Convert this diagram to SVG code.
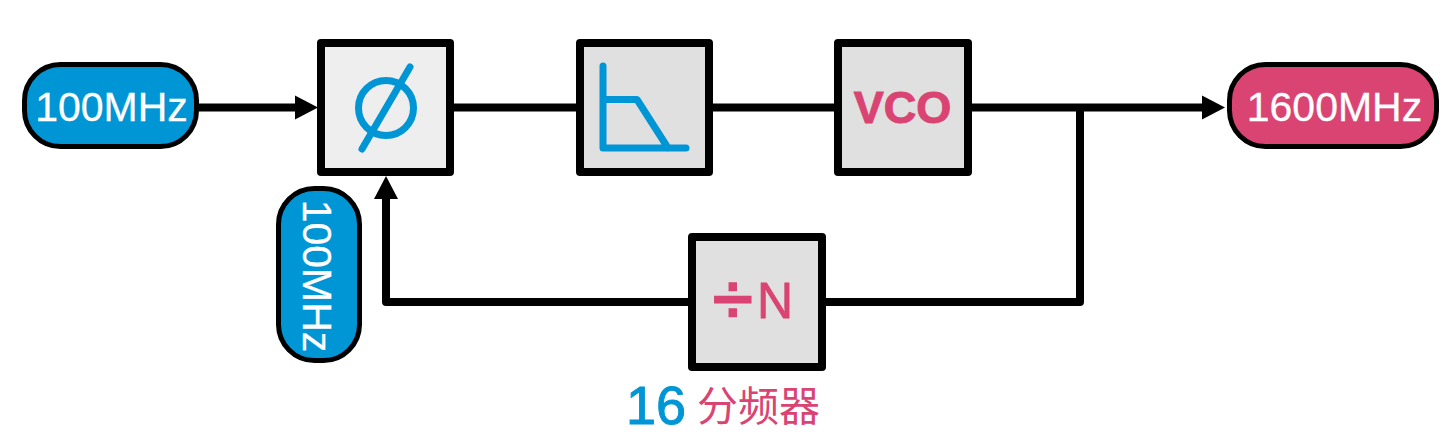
<svg xmlns="http://www.w3.org/2000/svg" width="1449" height="435" viewBox="0 0 1449 435">
<style>
.box{stroke:#000;stroke-width:8;stroke-linejoin:round}
.pill{stroke:#000;stroke-width:5}
.blue{fill:#0096d6}
.pink{fill:#d94472}
.pt{font-family:"Liberation Sans",Arial,sans-serif;font-size:41px;fill:#fff;stroke:#fff;stroke-width:.3;text-anchor:middle}
.icon{fill:none;stroke:#0096d6;stroke-width:7;stroke-linecap:round;stroke-linejoin:round}
.wire{fill:none;stroke:#000;stroke-width:8;stroke-linejoin:round}
.lab{font-family:"Liberation Sans",Arial,sans-serif}
</style>
<defs>
<marker id="arrow" markerUnits="userSpaceOnUse" markerWidth="24" markerHeight="26" refX="13" refY="13" orient="auto"><path d="M0 1L23 13L0 25Z" fill="#000"/></marker>
</defs>
<rect width="1449" height="435" fill="#fff"/>
<g id="connectors">
<path class="wire" d="M197 107.500H308" marker-end="url(#arrow)"/>
<path class="wire" d="M450 107.500H1215" marker-end="url(#arrow)"/>
<path class="wire" d="M1080 107.500V302H822"/>
<path class="wire" d="M692 302H386V186" marker-end="url(#arrow)"/>
</g>
<g id="input">
<rect class="pill blue" x="24.500" y="64.500" width="172" height="82" rx="36"/>
<text class="pt" x="111.500" y="121">100MHz</text>
</g>
<g id="feedback-frequency">
<rect class="pill blue" x="278.500" y="188.500" width="81" height="172" rx="36"/>
<text class="pt" transform="translate(303 276) rotate(90)">100MHz</text>
</g>
<g id="output">
<rect class="pill pink" x="1229.500" y="64.500" width="207" height="82" rx="36"/>
<text class="pt" x="1334.500" y="121">1600MHz</text>
</g>
<g id="phase-detector">
<rect class="box" x="321" y="43" width="129" height="129" fill="#eeeeee"/>
<circle class="icon" cx="386" cy="108" r="27.500"/>
<path class="icon" d="M410 67L362 149"/>
</g>
<g id="loop-filter">
<rect class="box" x="580" y="43" width="129" height="129" fill="#e0e0e0"/>
<path class="icon" d="M603 66V148H686M603 99.500H637L668 148"/>
</g>
<g id="vco">
<rect class="box" x="838" y="43" width="130" height="129" fill="#e0e0e0"/>
<text class="lab pink" x="902.500" y="123" font-size="45" font-weight="700" text-anchor="middle" stroke="#d94472" stroke-width="1">VCO</text>
</g>
<g id="divider">
<rect class="box" x="692" y="237" width="130" height="130" fill="#e0e0e0"/>
<text class="lab pink" x="713" y="324" font-size="72" stroke="#d94472" stroke-width="2.500">÷</text>
<text class="lab pink" x="757" y="318" font-size="50" stroke="#d94472" stroke-width=".8">N</text>
</g>
<g id="divider-label">
<text class="lab blue" x="626" y="423.500" font-size="54" stroke="#0096d6" stroke-width="1">16</text>
<text class="pink" x="697" y="421" font-size="41" font-family="'Liberation Sans','Noto Sans CJK SC',sans-serif">分频器</text>
</g>
</svg>
